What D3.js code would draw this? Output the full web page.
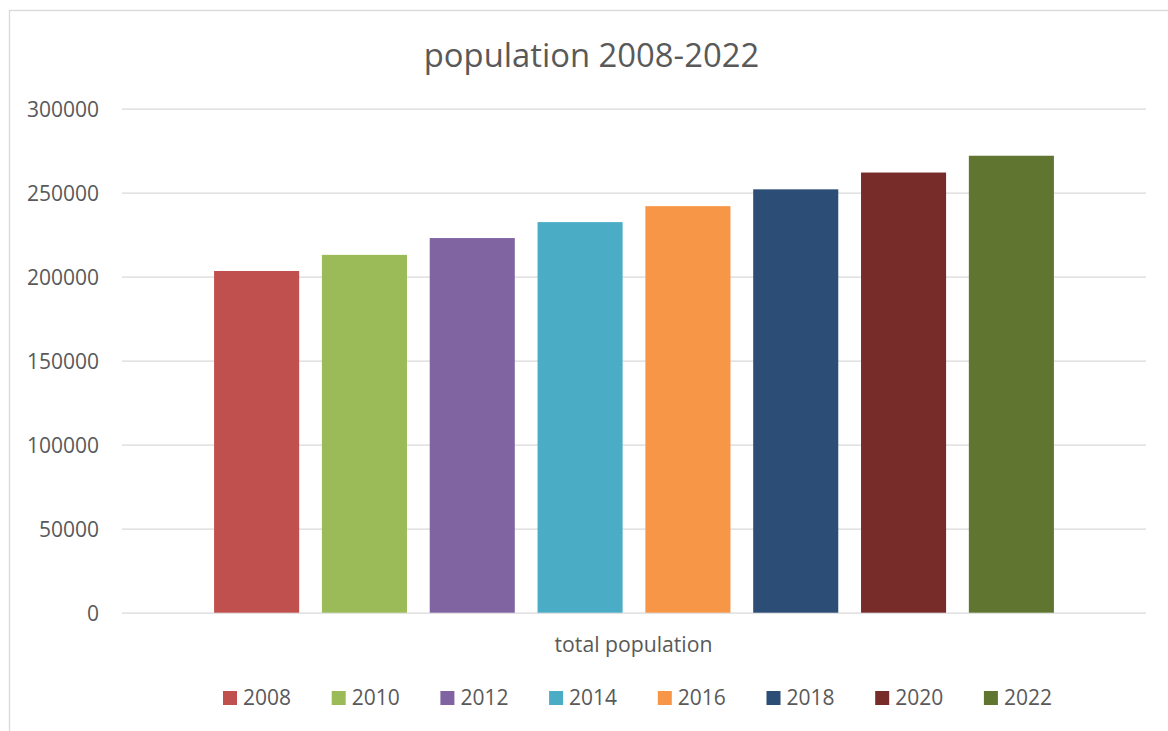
<!DOCTYPE html>
<html>
<head>
<meta charset="utf-8">
<script src="https://cdn.jsdelivr.net/npm/d3@7"></script>
<style>
  html, body { margin: 0; padding: 0; background: #fff; }
  svg { display: block; }
  text { font-family: "Open Sans", "DejaVu Sans", sans-serif; fill: #595959; }
</style>
</head>
<body>
<svg id="chart" width="1168" height="731"></svg>
<script>
// Population by survey year
const years = ["2008", "2010", "2012", "2014", "2016", "2018", "2020", "2022"];
const population = [203400, 213000, 223000, 232500, 242000, 252000, 262000, 272000];
const colors = ["#C0504D", "#9BBB59", "#8064A2", "#4BACC6", "#F79646", "#2C4D75", "#772C2A", "#5F7530"];
const yTicks = [0, 50000, 100000, 150000, 200000, 250000, 300000];
const categoryLabel = "total population";
const title = "population 2008-2022";

const svg = d3.select("#chart");
const W = 1168, H = 731;
const plot = { left: 122, right: 1146, top: 108.7, bottom: 612.7 };

// chart frame
svg.append("rect")
  .attr("x", 9.5).attr("y", 10.5)
  .attr("width", W + 20).attr("height", H + 20)
  .attr("fill", "#fff")
  .attr("stroke", "#D9D9D9").attr("stroke-width", 1.3);

const y = d3.scaleLinear().domain([0, 300000]).range([plot.bottom, plot.top]);
const x = d3.scaleBand().domain(years)
  .range([plot.left, plot.right])
  .paddingInner(0.211).paddingOuter(0.854);

// gridlines and value labels
const yAxis = d3.axisLeft(y).tickValues(yTicks).tickSize(-(plot.right - plot.left)).tickPadding(23).tickFormat(d3.format("d"));
const gy = svg.append("g").attr("transform", `translate(${plot.left},0)`).call(yAxis);
gy.select(".domain").remove();
gy.selectAll(".tick line").attr("stroke", "#D9D9D9").attr("stroke-width", 1.3);
gy.selectAll(".tick text")
  .attr("font-size", 21).attr("fill", "#595959")
  .attr("font-family", "'Open Sans', sans-serif")
  .attr("dy", "0.35em");

// bars
svg.append("g").selectAll("rect")
  .data(years.map((yr, i) => ({ yr, v: population[i], c: colors[i] })))
  .join("rect")
  .attr("x", d => x(d.yr))
  .attr("width", x.bandwidth())
  .attr("y", d => y(d.v))
  .attr("height", d => y(0) - y(d.v))
  .attr("fill", d => d.c);

// title
svg.append("text")
  .attr("x", 591.5).attr("y", 66.5)
  .attr("text-anchor", "middle")
  .attr("font-size", 32.8)
  .text(title);

// category label
svg.append("text")
  .attr("x", (plot.left + plot.right) / 2 - 0.5).attr("y", 651.5)
  .attr("text-anchor", "middle")
  .attr("font-size", 21.2)
  .text(categoryLabel);

// legend
const legendStep = 108.7, legendX0 = 223, legendY = 691;
const lg = svg.append("g").selectAll("g")
  .data(years.map((yr, i) => ({ yr, c: colors[i] })))
  .join("g")
  .attr("transform", (d, i) => `translate(${legendX0 + i * legendStep},${legendY})`);
lg.append("rect").attr("width", 14).attr("height", 14).attr("fill", d => d.c);
lg.append("text").attr("x", 20).attr("y", 13.5).attr("font-size", 21).text(d => d.yr);
</script>
</body>
</html>
